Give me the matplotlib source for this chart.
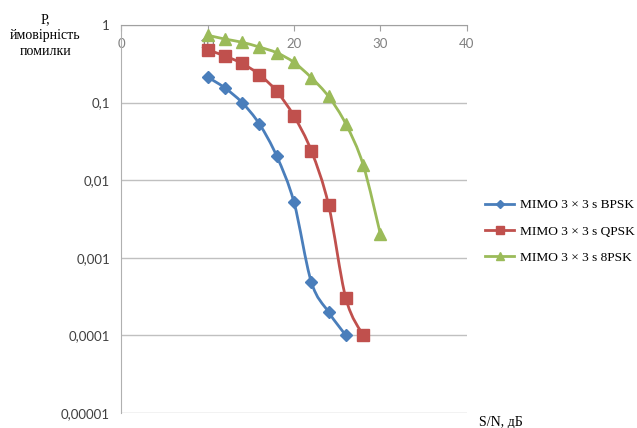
"""
BER vs S/N for MIMO 3x3 with different modulations
"""
import matplotlib
matplotlib.use("Agg")
import matplotlib.pyplot as plt
import numpy as np
from matplotlib.lines import Line2D
from matplotlib.patches import PathPatch
from matplotlib.path import Path
from matplotlib.ticker import FixedFormatter, FixedLocator

# Data
snr_bpsk = [10, 12, 14, 16, 18, 20, 22, 24, 26]
ber_bpsk = [0.214, 0.155, 0.1, 0.053, 0.0205, 0.0052, 0.00049, 0.0002, 0.0001]

snr_qpsk = [10, 12, 14, 16, 18, 20, 22, 24, 26, 28]
ber_qpsk = [0.48, 0.40, 0.32, 0.23, 0.14, 0.067, 0.024, 0.0048, 0.0003, 0.0001]

snr_8psk = [10, 12, 14, 16, 18, 20, 22, 24, 26, 28, 30]
ber_8psk = [0.74, 0.66, 0.60, 0.52, 0.44, 0.33, 0.21, 0.12, 0.053, 0.0158, 0.002]

x_ticks = [0, 10, 20, 30, 40]
y_ticks = [1, 0.1, 0.01, 0.001, 0.0001, 0.00001]
y_tick_labels = ["1", "0,1", "0,01", "0,001", "0,0001", "0,00001"]

series_labels = ["MIMO 3 × 3 s BPSK", "MIMO 3 × 3 s QPSK", "MIMO 3 × 3 s 8PSK"]


def smooth_path(xs, ys):
    """Excel-like smoothed line: Bezier segments through the points (log y)."""
    pts = np.column_stack([xs, np.log10(ys)])
    verts = [pts[0]]
    codes = [Path.MOVETO]
    n = len(pts)
    for i in range(n - 1):
        p0 = pts[i - 1] if i > 0 else pts[i]
        p1, p2 = pts[i], pts[i + 1]
        p3 = pts[i + 2] if i + 2 < n else pts[i + 1]
        verts += [p1 + (p2 - p0) / 6, p2 - (p3 - p1) / 6, p2]
        codes += [Path.CURVE4] * 3
    verts = np.array(verts)
    verts[:, 1] = 10 ** verts[:, 1]
    return Path(verts, codes)


def plot_ber():
    fig = plt.figure(figsize=(6.37, 4.28), dpi=100)
    ax = fig.add_axes([0.190, 0.035, 0.543, 0.9065])

    series = [
        (snr_bpsk, ber_bpsk, "#4A7EBB", "D", 6),
        (snr_qpsk, ber_qpsk, "#C0504D", "s", 8),
        (snr_8psk, ber_8psk, "#9BBB59", "^", 8),
    ]
    handles = []
    for (xs, ys, color, marker, size), label in zip(series, series_labels):
        ax.add_patch(PathPatch(smooth_path(xs, ys), facecolor="none",
                               edgecolor=color, linewidth=2, zorder=2))
        ax.plot(xs, ys, linestyle="none", marker=marker, markersize=size,
                color=color, zorder=3)
        handles.append(Line2D([], [], color=color, marker=marker,
                              markersize=size * 0.7, linewidth=2, label=label))

    ax.set_yscale("log")
    ax.set_ylim(1e-5, 1)
    ax.set_xlim(0, 40)

    # Y axis ticks
    ax.yaxis.set_major_locator(FixedLocator(y_ticks))
    ax.yaxis.set_major_formatter(FixedFormatter(y_tick_labels))
    ax.yaxis.set_minor_locator(FixedLocator([]))
    ax.tick_params(axis="y", length=0, pad=8, labelsize=9.5,
                   labelcolor="#404040")
    for lbl in ax.get_yticklabels():
        lbl.set_family("Lato")

    # X axis sits at the top line, labels just under it
    ax.set_xticks(x_ticks)
    ax.xaxis.set_ticks_position("top")
    ax.tick_params(axis="x", direction="in", length=4, color="#a0a0a0",
                   pad=-18, labelsize=9.5, labelcolor="#808080")
    for lbl in ax.get_xticklabels():
        lbl.set_family("Lato")

    # Grid and frame
    ax.grid(axis="y", color="#c0c0c0", linewidth=1)
    ax.set_axisbelow(True)
    for side in ["right", "bottom"]:
        ax.spines[side].set_visible(False)
    ax.spines["left"].set_color("#b0b0b0")
    ax.spines["top"].set_color("#a0a0a0")

    # Axis titles
    fig.text(0.071, 0.969, "P,\nймовірність\nпомилки", ha="center", va="top",
             family="Liberation Serif", fontsize=10, linespacing=1.3)
    fig.text(0.752, 0.014, "S/N, дБ", ha="left", va="center",
             family="Liberation Serif", fontsize=10)

    # Legend
    fig.legend(handles=handles, loc="upper left", bbox_to_anchor=(0.743, 0.563),
               frameon=False, prop={"family": "Liberation Serif", "size": 9.6},
               handlelength=2.15, handletextpad=0.45, labelspacing=1.05)

    fig.savefig("out.png", dpi=100)
    plt.close(fig)


if __name__ == "__main__":
    plot_ber()
